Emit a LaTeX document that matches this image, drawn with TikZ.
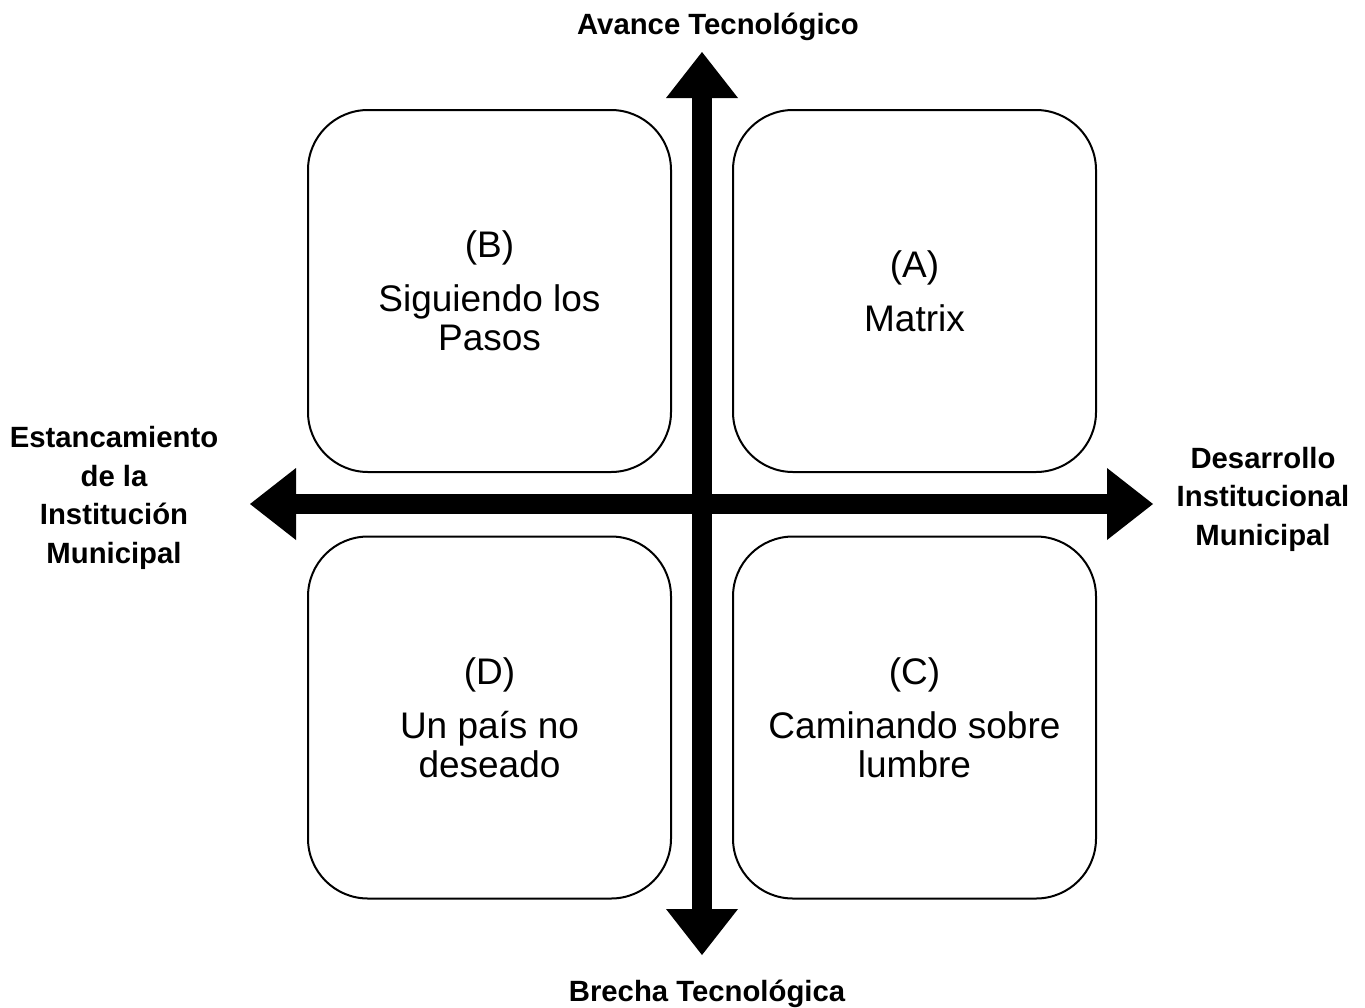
\documentclass[tikz,border=0pt]{standalone}
\usepackage{fontspec}
\setmainfont{Liberation Sans}
\usetikzlibrary{arrows.meta}
\begin{document}
\begin{tikzpicture}[x=1pt,y=-1pt,
  quad/.style={draw=black,line width=2pt,rounded corners=60pt,
    minimum width=363pt,minimum height=362pt,inner sep=0pt,
    align=center,font=\fontsize{37}{39}\selectfont},
  axislabel/.style={align=center,inner sep=0pt,
    font=\fontsize{29.3}{38.5}\selectfont\bfseries},
  axis/.style={line width=20pt,line cap=butt,
    {Triangle[length=46pt,width=72pt,line width=0pt]}-{Triangle[length=46pt,width=72pt,line width=0pt]}}]
  \useasboundingbox (0,0) rectangle (1365,1007);

  % four scenario boxes
  \node[quad] (B) at (489.5,291) {(B)\\[15pt]Siguiendo los\\Pasos};
  \node[quad] (A) at (914.5,291) {(A)\\[15pt]Matrix};
  \node[quad] (D) at (489.5,717.5) {(D)\\[15pt]Un país no\\deseado};
  \node[quad] (C) at (914.5,717.5) {(C)\\[15pt]Caminando sobre\\lumbre};

  % axis end points
  \coordinate (up) at (702,52);
  \coordinate (down) at (702,955);
  \coordinate (left) at (250,504);
  \coordinate (right) at (1153,504);

  \draw[axis] (down) -- (up);
  \draw[axis] (left) -- (right);

  % axis labels
  \node[axislabel] (ltop) at (718,27) {Avance Tecnológico};
  \node[axislabel] (lbottom) at (707,994) {Brecha Tecnológica};
  \node[axislabel] (lleft) at (114,498) {Estancamiento\\de la\\Institución\\Municipal};
  \node[axislabel] (lright) at (1263,499) {Desarrollo\\Institucional\\Municipal};
\end{tikzpicture}
\end{document}
